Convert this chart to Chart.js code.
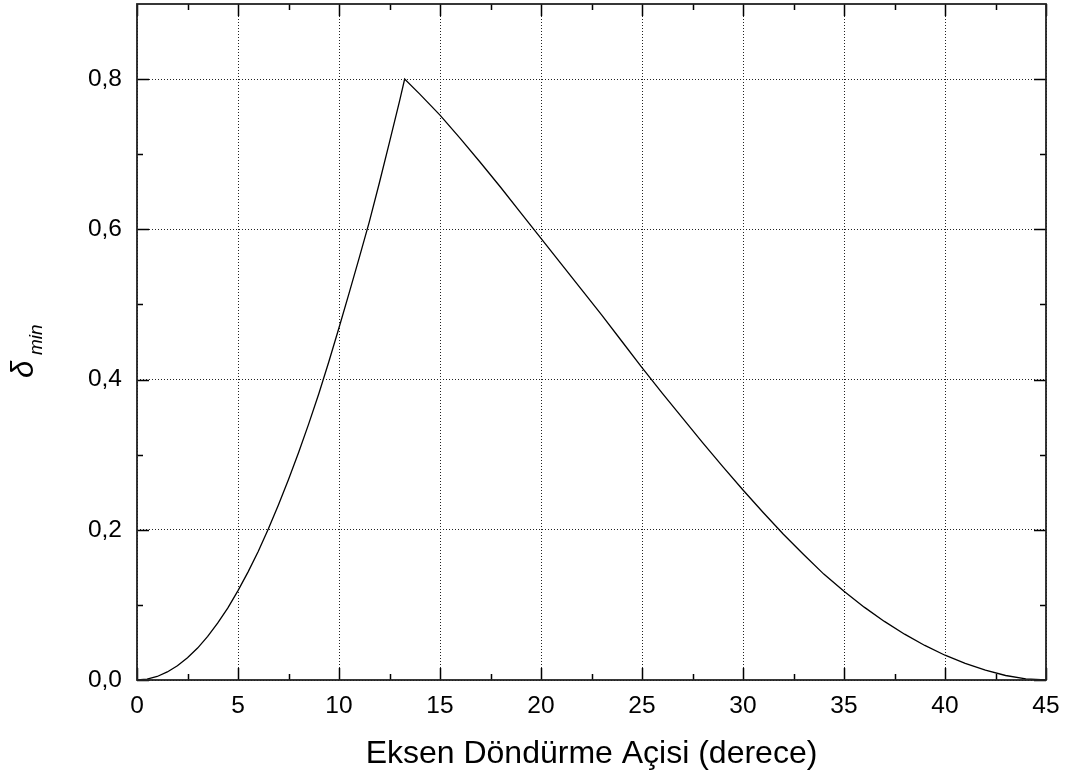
<!DOCTYPE html>
<html>
<head>
<meta charset="utf-8">
<script src="https://cdn.jsdelivr.net/npm/chart.js@4.4.1/dist/chart.umd.min.js"></script>
<style>
html, body { margin: 0; padding: 0; background: #fff; }
#chart_deltaMin { display: block; }
</style>
</head>
<body>
<canvas id="chart_deltaMin" width="1070" height="778"></canvas>
<script>
// values
var rotationAngles = [
    0, 0.5, 1, 1.5, 2, 2.5, 3, 3.5, 4, 4.5, 5, 5.5, 6, 6.5, 7, 7.5, 8, 8.5, 9, 9.5,
    10, 10.5, 11, 11.5, 12, 12.5, 13, 13.25,
    14, 15, 16, 17, 18, 19, 20, 21, 22, 23, 24, 25, 26, 27, 28, 29, 30,
    31, 32, 33, 34, 35, 36, 37, 38, 39, 40, 41, 42, 43, 44, 45
];
var deltaMinValues = [
    0, 0.0012, 0.0047, 0.0107, 0.019, 0.0295, 0.0425, 0.058, 0.076, 0.096, 0.119, 0.144, 0.171, 0.201, 0.233, 0.267, 0.303, 0.341, 0.381, 0.424,
    0.469, 0.515, 0.562, 0.610, 0.662, 0.716, 0.771, 0.800,
    0.780, 0.752, 0.721, 0.689, 0.656, 0.622, 0.588, 0.554, 0.520, 0.486, 0.451, 0.416, 0.382, 0.349, 0.316, 0.284, 0.253,
    0.223, 0.194, 0.167, 0.141, 0.118, 0.097, 0.078, 0.061, 0.046, 0.033, 0.022, 0.013, 0.006, 0.0015, 0
];
var xTickValues = [0, 5, 10, 15, 20, 25, 30, 35, 40, 45];
var xTickLabels = ['0', '5', '10', '15', '20', '25', '30', '35', '40', '45'];
var yTickValues = [0, 0.2, 0.4, 0.6, 0.8];
var yTickLabels = ['0,0', '0,2', '0,4', '0,6', '0,8'];
var xMinorTickValues = [2.5, 7.5, 12.5, 17.5, 22.5, 27.5, 32.5, 37.5, 42.5];
var yMinorTickValues = [0.1, 0.3, 0.5, 0.7];

var FONT = '"Liberation Sans", Arial, sans-serif';

var points = rotationAngles.map(function(a, i) {
    return { x: a, y: deltaMinValues[i] };
});

// frame + inward ticks on all four sides, y title with subscript
var framePlugin = {
    id: 'framePlugin',
    afterDraw: function(chart) {
        var ctx = chart.ctx;
        var a = chart.chartArea;
        var xs = chart.scales.x, ys = chart.scales.y;
        ctx.save();
        ctx.strokeStyle = '#000';
        ctx.lineWidth = 1.5;
        ctx.beginPath();
        function tickX(v, len) {
            var px = Math.round(xs.getPixelForValue(v)) + 0.5;
            ctx.moveTo(px, a.bottom); ctx.lineTo(px, a.bottom - len);
            ctx.moveTo(px, a.top); ctx.lineTo(px, a.top + len);
        }
        function tickY(v, len) {
            var py = Math.round(ys.getPixelForValue(v)) + 0.5;
            ctx.moveTo(a.left, py); ctx.lineTo(a.left + len, py);
            ctx.moveTo(a.right, py); ctx.lineTo(a.right - len, py);
        }
        xTickValues.forEach(function(v) { tickX(v, 12); });
        xMinorTickValues.forEach(function(v) { tickX(v, 6); });
        yTickValues.forEach(function(v) { tickY(v, 12); });
        yMinorTickValues.forEach(function(v) { tickY(v, 6); });
        ctx.stroke();
        ctx.strokeStyle = '#222';
        ctx.lineWidth = 1.8;
        ctx.strokeRect(a.left, a.top, a.right - a.left, a.bottom - a.top);

        ctx.fillStyle = '#000';
        ctx.translate(33, 378);
        ctx.rotate(-Math.PI / 2);
        ctx.textAlign = 'left';
        ctx.textBaseline = 'alphabetic';
        ctx.font = 'italic 31px ' + FONT;
        ctx.fillText('\u03b4', 0, 0);
        ctx.font = 'italic 19px ' + FONT;
        ctx.fillText('min', 23, 9);
        ctx.restore();
    }
};

var chart_deltaMin = new Chart(document.getElementById('chart_deltaMin'), {
    type: 'line',
    data: {
        datasets: [
            {
                label: 'delta min',
                data: points,
                borderColor: '#000',
                borderWidth: 1.3,
                pointRadius: 0,
                tension: 0,
                fill: false
            }
        ]
    },
    options: {
        animation: false,
        responsive: false,
        layout: {
            padding: { top: 4, right: 24, left: 0, bottom: 0 }
        },
        plugins: {
            legend: { display: false },
            tooltip: { enabled: false },
            title: { display: false }
        },
        scales: {
            x: {
                type: 'linear',
                min: 0,
                max: 45,
                afterFit: function(scale) {
                    scale.height = 98;
                    scale.paddingLeft = 0;
                    scale.paddingRight = 0;
                },
                afterBuildTicks: function(scale) {
                    scale.ticks = xTickValues.map(function(v) { return { value: v }; });
                },
                ticks: {
                    padding: 12,
                    color: '#000',
                    font: { family: FONT, size: 24.5 },
                    maxRotation: 0,
                    autoSkip: false,
                    callback: function(value, index) { return xTickLabels[index]; }
                },
                grid: {
                    color: '#222',
                    lineWidth: 1,
                    drawTicks: false
                },
                border: { display: false, dash: [1, 2] },
                title: {
                    display: true,
                    text: 'Eksen Döndürme Açisi (derece)',
                    color: '#000',
                    font: { family: FONT, size: 32 },
                    padding: { top: 0, bottom: 5 }
                }
            },
            y: {
                type: 'linear',
                min: 0,
                max: 0.9,
                afterFit: function(scale) {
                    scale.width = 137;
                    scale.paddingTop = 0;
                    scale.paddingBottom = 0;
                },
                afterBuildTicks: function(scale) {
                    scale.ticks = yTickValues.map(function(v) { return { value: v }; });
                },
                ticks: {
                    padding: 15,
                    color: '#000',
                    font: { family: FONT, size: 24.5 },
                    autoSkip: false,
                    callback: function(value, index) { return yTickLabels[index]; }
                },
                grid: {
                    color: '#222',
                    lineWidth: 1,
                    drawTicks: false
                },
                border: { display: false, dash: [1, 2] }
            }
        }
    },
    plugins: [framePlugin, {
        id: 'whiteBackground',
        beforeDraw: function(chart) {
            var ctx = chart.ctx;
            ctx.save();
            ctx.fillStyle = 'white';
            ctx.fillRect(0, 0, chart.width, chart.height);
            ctx.restore();
        }
    }]
});
</script>
</body>
</html>
